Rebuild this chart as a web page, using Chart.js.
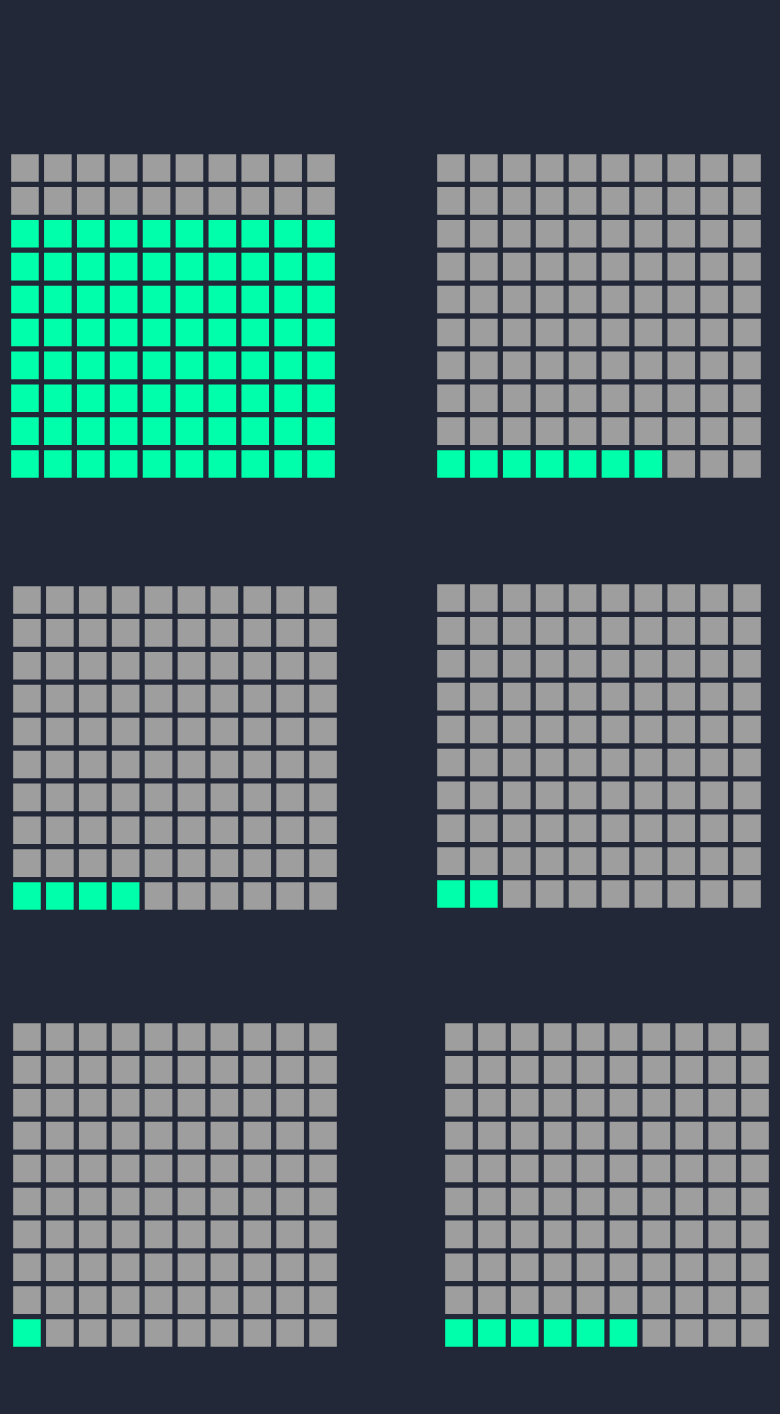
<!DOCTYPE html>
<html>
<head>
<meta charset="utf-8">
<script src="https://cdn.jsdelivr.net/npm/chart.js@4/dist/chart.umd.min.js"></script>
<style>
  html, body { margin: 0; padding: 0; background: #232838; }
  body { width: 780px; height: 1414px; position: relative; overflow: hidden; }
  .w { position: absolute; }
  .w canvas { display: block; }
</style>
</head>
<body>
<div class="w" id="w0"><canvas id="c0"></canvas></div>
<div class="w" id="w1"><canvas id="c1"></canvas></div>
<div class="w" id="w2"><canvas id="c2"></canvas></div>
<div class="w" id="w3"><canvas id="c3"></canvas></div>
<div class="w" id="w4"><canvas id="c4"></canvas></div>
<div class="w" id="w5"><canvas id="c5"></canvas></div>
<script>
// Data: filled cells (out of 100) for each waffle
const waffleValues = [80, 7, 4, 2, 1, 6];
const gridCols = 10;
const gridRows = 10;

// Layout (top-left corner of each waffle's plot area)
const gridLefts = [8.3, 434.3, 10.3, 434.8, 10.3, 442.3];
const gridTops  = [151.3, 151.3, 583.3, 581.3, 1020.3, 1020.3];
const AREA = 329;          // plot-area size -> 32.9px pitch
const CELL = 27.6;         // square side
const RADIUS = CELL / Math.SQRT2;

const FILLED = '#00ffaa';
const EMPTY = '#9e9e9e';

waffleValues.forEach((val, k) => {
  const wrap = document.getElementById('w' + k);
  // Chart.js reserves the point radius as padding around the plot area
  wrap.style.left = (gridLefts[k] - RADIUS) + 'px';
  wrap.style.top = (gridTops[k] - RADIUS) + 'px';
  wrap.style.width = (AREA + 2 * RADIUS) + 'px';
  wrap.style.height = (AREA + 2 * RADIUS) + 'px';
  const pts = [];
  const colors = [];
  for (let i = 0; i < gridCols * gridRows; i++) {
    pts.push({ x: i % gridCols, y: Math.floor(i / gridCols) });
    colors.push(i < val ? FILLED : EMPTY);
  }
  new Chart(document.getElementById('c' + k), {
    type: 'scatter',
    data: {
      datasets: [{
        data: pts,
        pointStyle: 'rect',
        pointRadius: RADIUS,
        pointHoverRadius: RADIUS,
        pointBackgroundColor: colors,
        pointBorderWidth: 0,
        pointHoverBorderWidth: 0,
        pointBorderColor: 'rgba(0,0,0,0)'
      }]
    },
    options: {
      responsive: true,
      maintainAspectRatio: false,
      animation: false,
      events: [],
      layout: { padding: 0 },
      plugins: { legend: { display: false }, tooltip: { enabled: false } },
      scales: {
        x: { type: 'linear', min: -0.5, max: gridCols - 0.5, display: false },
        y: { type: 'linear', min: -0.5, max: gridRows - 0.5, display: false }
      }
    }
  });
});
</script>
</body>
</html>
